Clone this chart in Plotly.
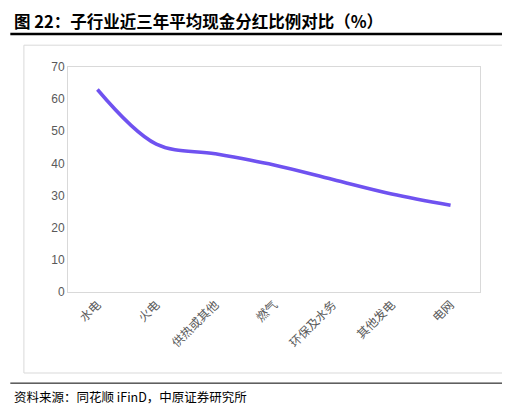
import plotly.graph_objects as go

categories = ["水电", "火电", "供热或其他", "燃气", "环保及水务", "其他发电", "电网"]
values = [63, 46, 43, 39.5, 35, 30.5, 27]
yticks = [0, 10, 20, 30, 40, 50, 60, 70]

fig = go.Figure()
fig.add_trace(go.Scatter(x=categories, y=values, mode="lines",
                         line=dict(color="#6f52f0", width=3.5, shape="spline", smoothing=1.0)))
fig.update_layout(
    width=510, height=409, margin=dict(l=60, r=38, t=59, b=125, autoexpand=False),
    paper_bgcolor="white", plot_bgcolor="white", showlegend=False,
    font=dict(family="Noto Sans CJK SC, sans-serif", size=12, color="#595959"),
    xaxis=dict(tickangle=-45, showline=True, linecolor="#d9d9d9", mirror=True, automargin=False,
               range=[-0.5, 6.5], ticks="", tickfont=dict(size=12, color="#595959")),
    yaxis=dict(range=[0, 70], tickvals=yticks, showgrid=False, showline=True, automargin=False,
               linecolor="#d9d9d9", mirror=True, ticks="", ticklen=0,
               tickfont=dict(family="Liberation Sans, Arial", size=12, color="#595959")),
    shapes=[
        dict(type="rect", xref="paper", yref="paper", x0=-0.107, x1=1.055, y0=-0.36, y1=1.097,
             line=dict(color="#d9d9d9", width=1)),
        dict(type="line", xref="paper", yref="paper", x0=-0.14, x1=1.09, y0=1.147, y1=1.147,
             line=dict(color="black", width=2.5)),
        dict(type="line", xref="paper", yref="paper", x0=-0.14, x1=1.09, y0=-0.405, y1=-0.405,
             line=dict(color="black", width=1)),
    ],
    annotations=[
        dict(text="<b>图 22：子行业近三年平均现金分红比例对比（%）</b>", xref="paper", yref="paper",
             x=-0.135, y=1.205, xanchor="left", yanchor="middle", showarrow=False,
             font=dict(size=16.5, color="black")),
        dict(text="资料来源：同花顺 iFinD，中原证券研究所", xref="paper", yref="paper",
             x=-0.135, y=-0.465, xanchor="left", yanchor="middle", showarrow=False,
             font=dict(size=12.5, color="black")),
    ],
)
fig.write_html("out.html")
